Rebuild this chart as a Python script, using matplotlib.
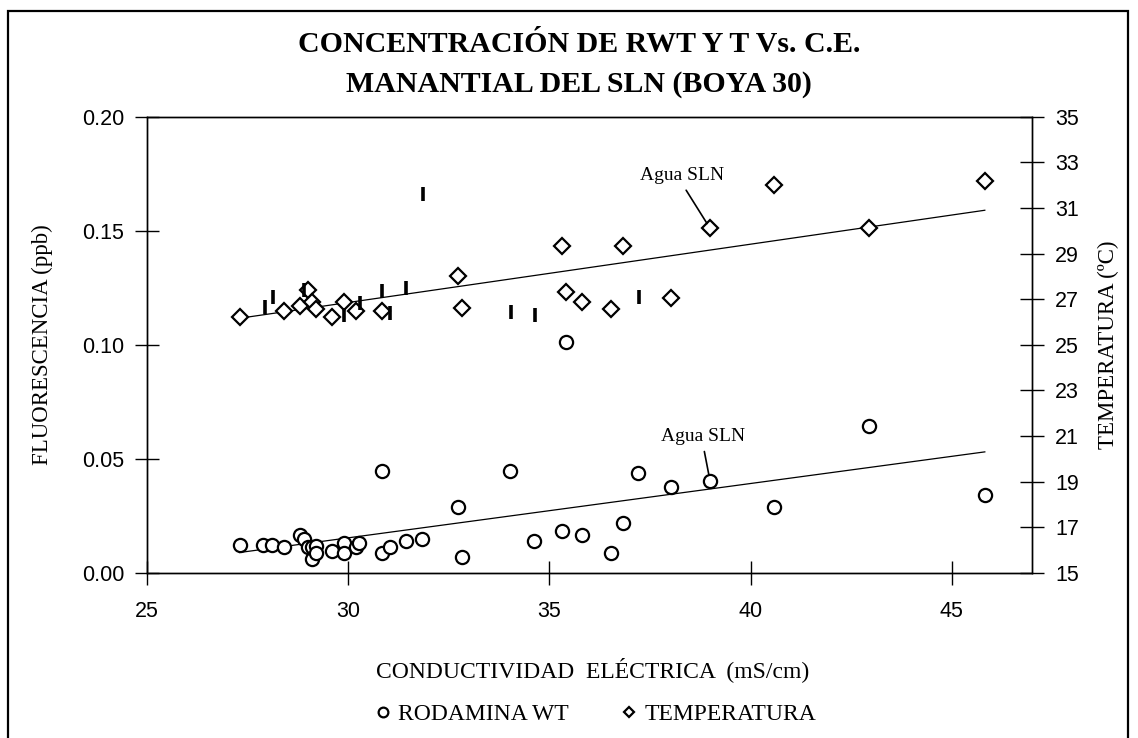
import matplotlib
matplotlib.use("Agg")
import matplotlib.pyplot as plt
import numpy as np
from matplotlib.lines import Line2D
from matplotlib.patches import Rectangle

# conductividad electrica (mS/cm) y rodamina WT (ppb)
ce_rwt = [27.30, 27.89, 28.11, 28.40, 28.80, 28.90, 29.00, 29.10, 29.10, 29.20,
          29.20, 29.59, 29.89, 29.89, 30.19, 30.28, 30.84, 30.84, 31.04, 31.44,
          31.83, 32.73, 32.83, 34.01, 34.62, 35.32, 35.42, 35.81, 36.52, 36.82,
          37.21, 38.01, 38.99, 40.59, 42.93, 45.82]
rwt = [0.0122, 0.0122, 0.0122, 0.0111, 0.0167, 0.0148, 0.0111, 0.0058, 0.0111, 0.0116,
       0.0085, 0.0094, 0.0129, 0.0085, 0.0111, 0.0129, 0.0448, 0.0085, 0.0114, 0.0138,
       0.0146, 0.0289, 0.0067, 0.0448, 0.0139, 0.0183, 0.1010, 0.0166, 0.0087, 0.0218,
       0.0438, 0.0377, 0.0404, 0.0289, 0.0642, 0.0342]

# temperatura (C) - rombos
ce_temp = [27.30, 28.41, 28.81, 29.00, 29.10, 29.20, 29.59, 29.89, 30.20, 30.84,
           32.74, 32.83, 35.32, 35.42, 35.81, 36.52, 36.82, 38.01, 38.99, 40.58,
           42.93, 45.82]
temp = [26.22, 26.49, 26.69, 27.38, 26.88, 26.55, 26.22, 26.87, 26.46, 26.50,
        28.01, 26.59, 29.33, 27.31, 26.87, 26.55, 29.33, 27.03, 30.11, 32.01,
        30.13, 32.16]

# temperatura - puntos marcados con barra
ce_temp2 = [27.92, 28.13, 28.91, 29.90, 30.30, 30.85, 31.04, 31.44, 31.86, 34.05,
            34.63, 37.22]
temp2 = [26.66, 27.10, 27.38, 26.30, 26.81, 27.36, 26.40, 27.47, 31.60, 26.42,
         26.31, 27.10]

xticks = [25, 30, 35, 40, 45]
yticks_l = [0.00, 0.05, 0.10, 0.15, 0.20]
yticks_r = list(range(15, 36, 2))

serif = "Liberation Serif"
sans = "Liberation Sans"

fig = plt.figure(figsize=(11.38, 7.38), dpi=100)
W, H = 1138.0, 738.0
ax = fig.add_axes([147 / W, 1 - 572.7 / H, (1032.3 - 147) / W, (572.7 - 116.7) / H])
ax2 = ax.twinx()

# rodamina
ax.plot(ce_rwt, rwt, linestyle="none", marker="o", markersize=9.5,
        markerfacecolor="white", markeredgecolor="black", markeredgewidth=1.6, zorder=3)
p = np.polyfit(ce_rwt, rwt, 1)
xx = np.array([min(ce_rwt), max(ce_rwt)])
ax.plot(xx, np.polyval(p, xx), color="black", linewidth=0.9)

# temperatura
ax2.plot(ce_temp, temp, linestyle="none", marker="D", markersize=7.8,
         markerfacecolor="white", markeredgecolor="black", markeredgewidth=1.6, zorder=3)
ax2.plot(ce_temp2, temp2, linestyle="none", marker="|", markersize=9.5,
         markeredgecolor="black", markeredgewidth=2.6, zorder=3)
allx = ce_temp + ce_temp2
ally = temp + temp2
p2 = np.polyfit(allx, ally, 1)
xx2 = np.array([min(allx), max(allx)])
ax2.plot(xx2, np.polyval(p2, xx2), color="black", linewidth=0.9)

ax.set_xlim(25, 47)
ax.set_ylim(0, 0.2)
ax2.set_ylim(15, 35)
ax.set_xticks(xticks)
ax.set_yticks(yticks_l)
ax.set_yticklabels(["%.2f" % v for v in yticks_l])
ax2.set_yticks(yticks_r)

for a in (ax, ax2):
    for s in a.spines.values():
        s.set_linewidth(1.0)
ax.tick_params(axis="both", direction="inout", length=17, width=1.0, labelsize=15.5)
ax.tick_params(axis="y", pad=8)
ax.tick_params(axis="x", pad=12)
ax2.tick_params(axis="y", direction="inout", length=17, width=1.0, labelsize=15.5, pad=8)
for lab in ax.get_xticklabels() + ax.get_yticklabels() + ax2.get_yticklabels():
    lab.set_family(sans)

# anotaciones
i = ce_temp.index(38.99)
ax2.annotate("Agua SLN", xy=(ce_temp[i], temp[i]), xytext=(-20, 38),
             textcoords="offset points", ha="center", va="center",
             family=serif, fontsize=14,
             arrowprops=dict(arrowstyle="-", color="black", lw=1.2,
                             shrinkA=3, shrinkB=4, relpos=(0.5, 0)))
j = ce_rwt.index(38.99)
ax.annotate("Agua SLN", xy=(ce_rwt[j], rwt[j]), xytext=(-5, 32),
            textcoords="offset points", ha="center", va="center",
            family=serif, fontsize=14,
            arrowprops=dict(arrowstyle="-", color="black", lw=1.2,
                            shrinkA=3, shrinkB=4, relpos=(0.5, 0)))

# titulos y etiquetas
fig.text(579 / W, 1 - 51.7 / H, "CONCENTRACIÓN DE RWT Y T Vs. C.E.", ha="center",
         va="baseline", family=serif, fontweight="bold", fontsize=21.5)
fig.text(579 / W, 1 - 91.7 / H, "MANANTIAL DEL SLN (BOYA 30)", ha="center",
         va="baseline", family=serif, fontweight="bold", fontsize=21.5)
fig.text(593 / W, 1 - 677.3 / H, "CONDUCTIVIDAD  ELÉCTRICA  (mS/cm)", ha="center",
         va="baseline", family=serif, fontsize=17)
fig.text(42.5 / W, 1 - 344.7 / H, "FLUORESCENCIA (ppb)", rotation=90, ha="center",
         va="center", family=serif, fontsize=16.5)
fig.text(1108 / W, 1 - 344.7 / H, "TEMPERATURA (ºC)", rotation=90, ha="center",
         va="center", family=serif, fontsize=16.5)

# leyenda
h1 = Line2D([], [], linestyle="none", marker="o", markersize=7, markerfacecolor="white",
            markeredgecolor="black", markeredgewidth=1.6)
h2 = Line2D([], [], linestyle="none", marker="D", markersize=5.5, markerfacecolor="white",
            markeredgecolor="black", markeredgewidth=1.6)
fig.legend([h1, h2], ["RODAMINA WT", "TEMPERATURA"], loc="center",
           bbox_to_anchor=(595.6 / W, 1 - 714.5 / H), ncol=2, frameon=False,
           handlelength=0.7, handletextpad=0.3, columnspacing=2.2,
           prop={"family": serif, "size": 17})

# marco exterior
fig.patches.append(Rectangle((8 / W, -0.05), (1128 - 8) / W, 1.05 - 10.7 / H,
                             transform=fig.transFigure, fill=False,
                             edgecolor="black", linewidth=1.6))

fig.savefig("out.png", dpi=100)
